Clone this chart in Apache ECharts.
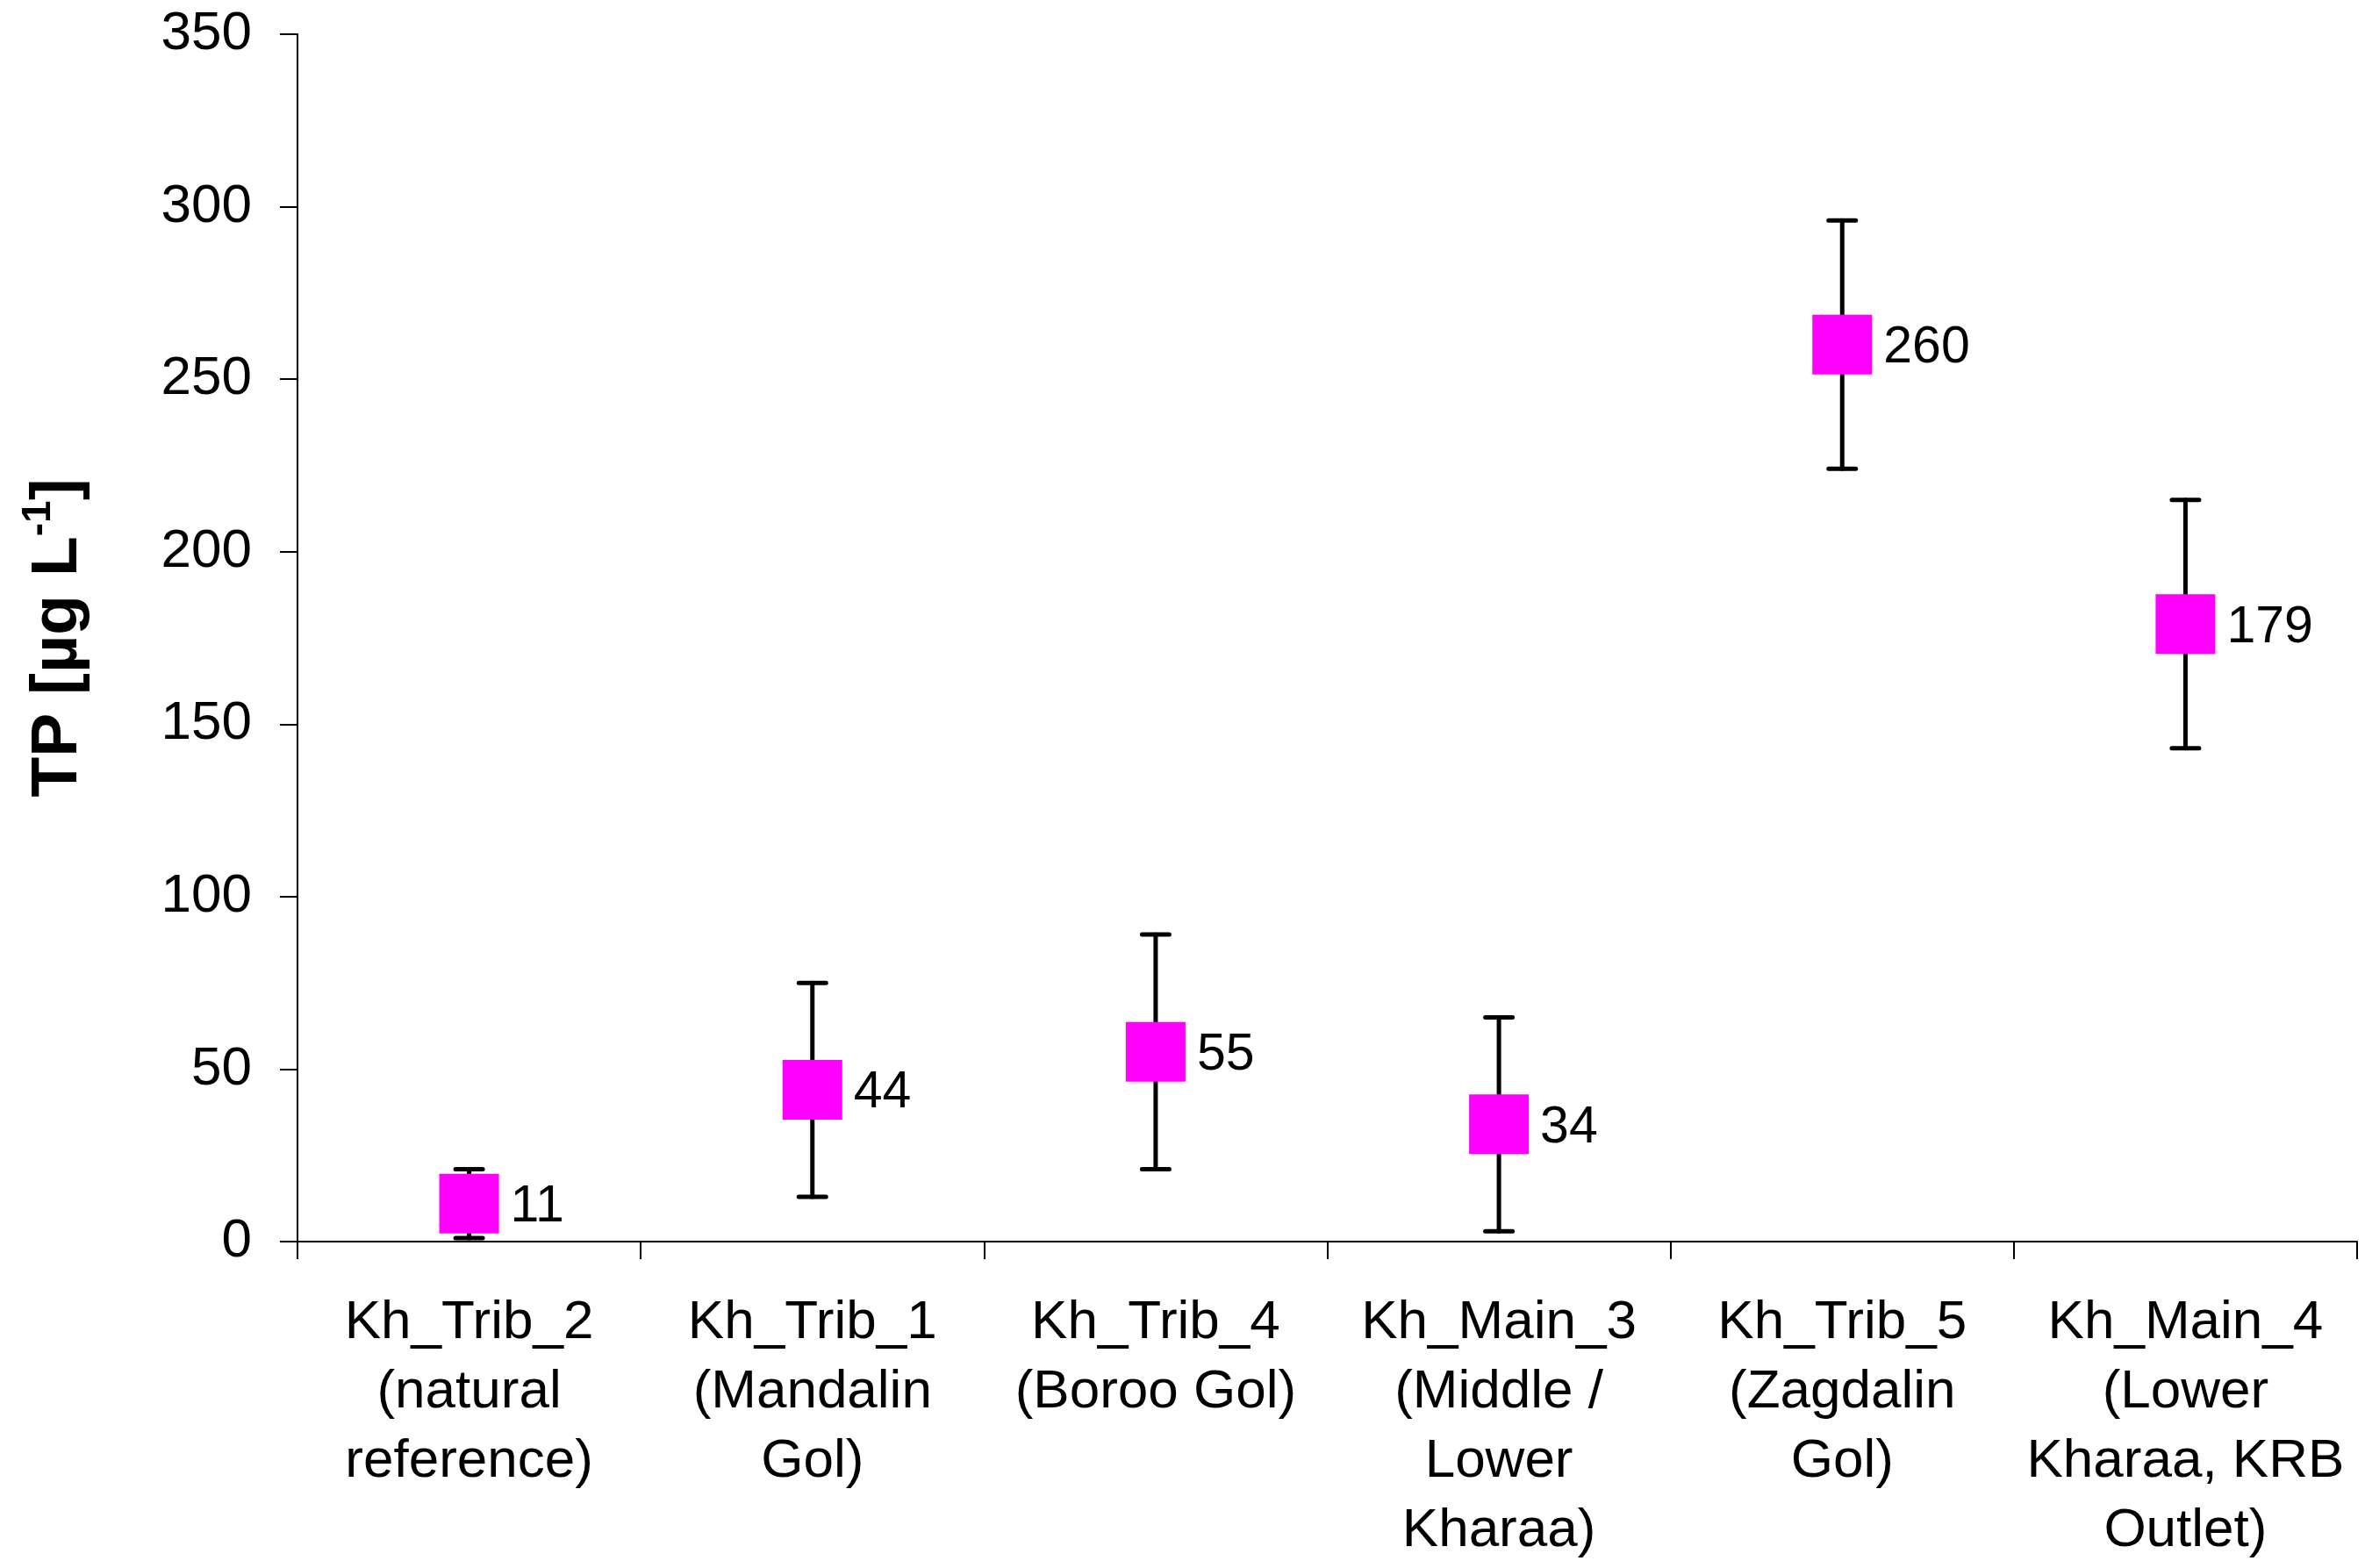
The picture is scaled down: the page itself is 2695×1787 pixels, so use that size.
<!DOCTYPE html>
<html>
<head>
<meta charset="utf-8">
<title>TP</title>
<script src="https://cdn.jsdelivr.net/npm/echarts@6/dist/echarts.min.js"></script>
<style>
	html, body { margin: 0; padding: 0; background: #fff; }
	#main { width: 2695px; height: 1787px; }
</style>
</head>
<body>
<div id="main"></div>
<script>
// 采样点（类目）
const categories = [
	'Kh_Trib_2\n(natural\nreference)',
	'Kh_Trib_1\n(Mandalin\nGol)',
	'Kh_Trib_4\n(Boroo Gol)',
	'Kh_Main_3\n(Middle /\nLower\nKharaa)',
	'Kh_Trib_5\n(Zagdalin\nGol)',
	'Kh_Main_4\n(Lower\nKharaa, KRB\nOutlet)'
];
// TP 平均值 [µg/L]
const means = [11, 44, 55, 34, 260, 179];
// 误差棒（±）
const errors = [10, 31, 34, 31, 36, 36];
// Y 轴刻度
const yTicks = [0, 50, 100, 150, 200, 250, 300, 350];

const FONT = 'Liberation Sans';

const chart = echarts.init(document.getElementById('main'));

// 误差棒数据 [类目序号, 下限, 上限]
const errData = means.map(function (m, i) {
	return [i, m - errors[i], m + errors[i]];
});

const option = {
	backgroundColor: '#fff',
	animation: false,
	grid: {
		left: 339,
		right: 9,
		top: 39,
		bottom: 372
	},
	xAxis: {
		type: 'category',
		data: categories,
		boundaryGap: true,
		axisLine: { lineStyle: { color: '#000', width: 2 } },
		axisTick: {
			show: true,
			inside: false,
			length: 20,
			alignWithLabel: false,
			interval: 0,
			lineStyle: { color: '#000', width: 2 }
		},
		axisLabel: {
			interval: 0,
			color: '#000',
			fontFamily: FONT,
			fontSize: 62,
			lineHeight: 79,
			margin: 53,
			align: 'center'
		},
		splitLine: { show: false }
	},
	yAxis: {
		type: 'value',
		min: yTicks[0],
		max: yTicks[yTicks.length - 1],
		interval: 50,
		name: '{b|TP [µg L}{sup|-1}{b|]}',
		nameLocation: 'middle',
		nameRotate: 90,
		nameGap: 228,
		nameTextStyle: {
			rich: {
				b: {
					fontFamily: FONT,
					fontWeight: 'bold',
					fontSize: 75,
					color: '#000',
					lineHeight: 90
				},
				sup: {
					fontFamily: FONT,
					fontWeight: 'bold',
					fontSize: 46,
					color: '#000',
					verticalAlign: 'top',
					lineHeight: 46
				}
			}
		},
		axisLine: { show: true, lineStyle: { color: '#000', width: 2 } },
		axisTick: {
			show: true,
			inside: false,
			length: 20,
			lineStyle: { color: '#000', width: 2 }
		},
		axisLabel: {
			color: '#000',
			fontFamily: FONT,
			fontSize: 62,
			margin: 52
		},
		splitLine: { show: false }
	},
	series: [
		{
			// 误差棒
			type: 'custom',
			z: 2,
			data: errData,
			renderItem: function (params, api) {
				const idx = api.value(0);
				const lo = api.coord([idx, api.value(1)]);
				const hi = api.coord([idx, api.value(2)]);
				const half = 15.5;
				const style = { stroke: '#000', lineWidth: 5, lineCap: 'round' };
				return {
					type: 'group',
					children: [
						{ type: 'line', shape: { x1: hi[0], y1: hi[1], x2: lo[0], y2: lo[1] }, style: style },
						{ type: 'line', shape: { x1: hi[0] - half, y1: hi[1], x2: hi[0] + half, y2: hi[1] }, style: style },
						{ type: 'line', shape: { x1: lo[0] - half, y1: lo[1], x2: lo[0] + half, y2: lo[1] }, style: style }
					]
				};
			}
		},
		{
			// 平均值
			type: 'scatter',
			z: 5,
			data: means,
			symbol: 'rect',
			symbolSize: 68,
			itemStyle: { color: '#FF00FF', opacity: 1 },
			label: {
				show: true,
				position: 'right',
				distance: 13,
				offset: [0, 4],
				color: '#000',
				opacity: 1,
				fontFamily: FONT,
				fontSize: 59
			}
		}
	]
};

chart.setOption(option);
</script>
</body>
</html>
